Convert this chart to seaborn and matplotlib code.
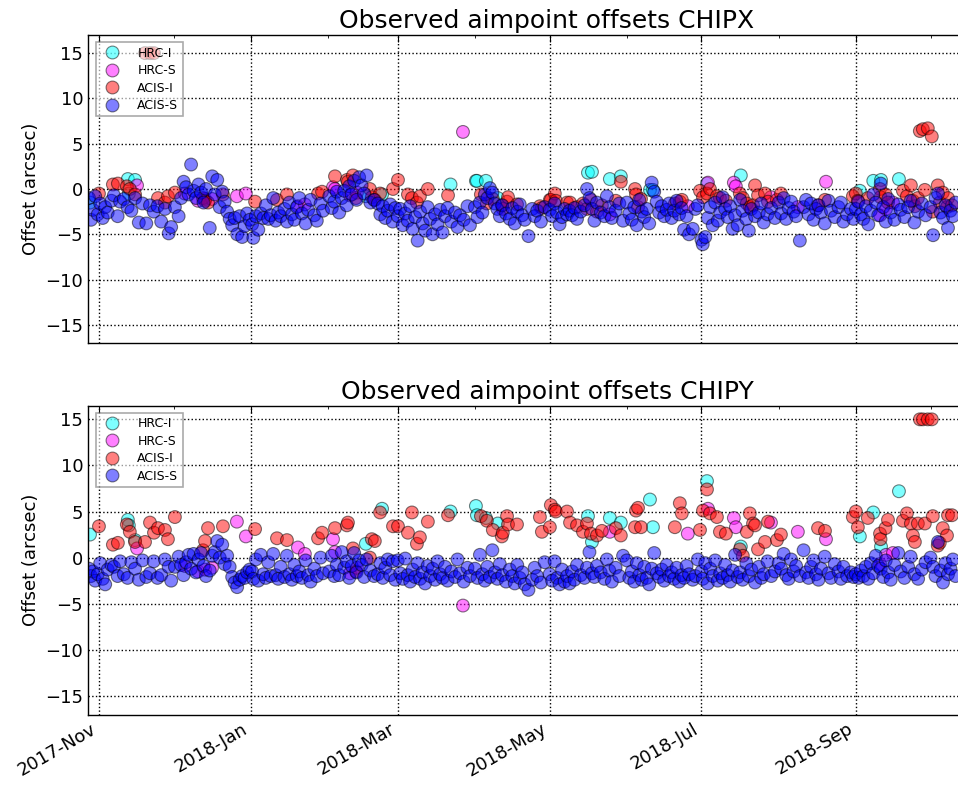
import numpy as np
import pandas as pd
import matplotlib
matplotlib.use("Agg")
import matplotlib.pyplot as plt
import matplotlib.dates as mdates
import seaborn as sns

# ---------------- data (days since 2017-11-01, offsets in arcsec) ----------------
acis_s_day = [
    -4.0, -3.2, -2.5, -1.5, -0.5, 0.5, 1.5, 2.5, 3.5, 5.0, 6.0, 7.5, 8.5, 10.0, 11.5, 13.0, 14.5, 16.0, 17.5, 19.0, 20.5, 22.0, 23.5, 25.0, 26.5, 28.0, 29.0,
    30.5, 32.0, 33.0, 34.0, 35.0, 36.0, 37.0, 38.0, 39.0, 40.0, 41.0, 42.0, 43.0, 44.5, 45.5, 46.5, 47.5, 48.5, 49.5, 50.5, 51.5, 52.5, 53.5, 54.5, 55.5, 56.5, 57.5, 58.5, 59.5, 60.5,
    61.5, 62.0, 63.0, 64.0, 65.0, 66.0, 67.0, 68.0, 69.0, 70.0, 71.0, 72.0, 73.0, 74.5, 75.5, 76.5, 77.5, 78.5, 79.5, 80.5, 81.5, 83.0, 84.0, 85.0, 86.5, 87.5, 89.0, 90.0,
    92.5, 93.5, 94.5, 95.5, 96.5, 97.5, 98.5, 99.5, 100.5, 101.5, 102.5, 103.5, 104.5, 105.5, 106.5, 107.5, 109.0, 110.5, 112.0, 113.0, 114.0, 115.0, 116.0, 117.0, 118.0, 119.0,
    120, 121, 122, 123, 124, 125, 126, 127, 128, 129, 130, 131, 132, 133, 134, 135, 136, 137, 138, 139, 140, 141.5, 143, 144, 145, 146.5, 148, 149,
    151, 152, 153, 154, 155, 156, 157, 158, 159, 160, 161, 162, 163.5, 165, 166, 167, 168, 169, 170, 171, 172.5, 174, 175, 176, 177.5, 179,
    181, 182, 183, 184, 185, 186, 187, 188, 189, 190, 191, 192, 193.5, 195, 196, 197, 198, 199, 200, 201.5, 203, 204, 205, 206, 207.5, 209, 210.5,
    212, 213, 214, 215, 216, 217, 218, 219, 220, 221, 222, 223, 224, 225, 226, 227, 228, 229, 230, 231, 232, 233, 234, 235, 236, 237, 238.5, 239.5, 240.5,
    242, 242.5, 243.5, 244.5, 245.5, 246.5, 247.5, 248.5, 249.5, 250.5, 251.5, 252.5, 253.5, 254.5, 255.5, 256.5, 257.5, 258.5, 260, 261, 262, 263.5, 265, 266, 267, 268.5, 270, 271.5,
    273, 274, 275, 276, 277, 278, 279, 280, 281.5, 283, 284, 285, 286, 287, 288, 289, 290, 291.5, 293, 294, 295.5, 297, 298, 299, 300.5, 302, 303,
    304, 305, 306, 307, 308, 309, 310, 311, 312, 313, 314, 315, 316, 317, 318, 319.5, 321, 322, 323.5, 325, 326, 327.5, 329, 330.5, 332,
    334, 335, 336, 337, 338, 339, 340, 341, 342, 343, 344,
]
acis_s_chipx = [
    -1.0, -3.4, -2.3, -0.8, -2.8, -1.6, -3.2, -2.0, -2.6, -1.3, -0.7, -3.0, -1.4, -1.1, -2.0, -2.4, -1.0, -3.7, -1.6, -3.8, -1.8, -2.5, -1.9, -3.6, -2.2, -4.9, -4.2,
    -2.0, -3.0, -1.0, 0.8, 0.2, -0.6, 2.7, -0.2, -1.0, 0.5, -0.4, -1.5, 0.0, -4.3, 1.4, -0.6, 1.0, -2.0, -0.3, -1.4, -2.5, -3.3, -4.0, -3.2, -5.0, -3.0, -5.3, -4.1, -2.7, -3.4,
    -3.9, -5.4, -3.0, -4.5, -2.7, -3.2, -1.8, -3.3, -2.9, -1.0, -3.5, -2.6, -3.0, -2.2, -3.6, -1.5, -2.8, -3.4, -2.0, -1.0, -2.7, -3.8, -2.3, -1.2, -2.9, -3.5, -1.6, -2.4,
    -0.8, -2.1, -1.4, -0.3, -2.6, -1.0, -0.2, -1.8, 0.3, -0.6, 0.9, -1.2, 1.3, 0.4, -0.5, 1.5, -1.5, -1.2, -1.6, -2.8, -1.9, -3.2, -2.4, -1.7, -3.6, -2.1,
    -3.0, -2.2, -4.0, -2.7, -3.5, -1.9, -4.4, -3.1, -5.7, -2.5, -3.8, -4.6, -2.0, -3.3, -5.0, -2.8, -3.9, -2.3, -4.8, -3.0, -2.1, -3.6, -2.6, -4.2, -2.9, -3.4, -1.9, -4.0,
    -2.0, -3.1, -1.5, -2.6, -0.6, -1.0, 0.1, -0.4, -1.6, -2.2, -3.0, -1.8, -2.7, -3.3, -2.1, -3.8, -2.5, -1.7, -2.9, -3.4, -5.2, -2.2, -3.0, -2.4, -3.6, -2.0,
    -2.3, -3.0, -1.6, -2.6, -3.9, -3.1, -2.2, -2.8, -2.4, -2.9, -2.1, -3.3, -2.5, -1.8, 0.0, -1.0, -2.2, -3.5, -1.5, -2.6, -3.0, -0.8, -2.0, -3.2, -2.4, -1.6, -3.5,
    -1.5, -2.7, -3.4, -2.0, -4.0, -1.2, -2.5, -3.1, -2.2, -3.8, 0.7, -0.3, -1.4, -2.6, -1.9, -3.0, -2.3, -1.6, -3.2, -2.4, -1.3, -2.8, -2.1, -4.5, -3.0, -5.0, -4.4, -2.2, -1.8,
    -5.6, -6.1, -5.3, -3.2, -2.0, -4.0, -1.5, -3.5, -2.6, -0.9, -2.2, -3.1, -1.9, -4.4, -2.9, -4.0, -1.2, -2.4, -3.3, -4.6, -2.2, -3.0, -2.6, -1.6, -3.7, -2.8, -2.1, -3.2,
    -1.5, -2.7, -1.0, -3.3, -2.1, -1.4, -2.5, -3.0, -5.7, -2.0, -1.2, -2.8, -1.6, -3.4, -2.2, -1.8, -2.6, -3.8, -1.3, -2.4, -3.1, -2.0, -1.5, -3.6, -2.8, -2.2, -3.3,
    -2.2, -1.4, -2.8, -3.3, -1.9, -3.9, -2.4, -0.6, -1.5, -2.9, 0.6, -2.0, -3.6, -1.1, -2.6, -3.4, -1.7, -2.3, -3.1, -2.0, -1.3, -3.7, -2.5, -1.6, -2.9,
    -2.0, -5.1, -1.0, -0.5, -2.6, -3.2, -1.8, -4.3, -2.4, -3.0, -1.5,
]
acis_s_chipy = [
    -1.2, -2.0, -1.5, -2.5, -1.8, -0.6, -2.3, -2.9, -1.3, -0.8, -1.0, -2.0, -0.4, -1.8, -2.2, -0.5, -1.2, -2.4, -0.3, -2.1, -1.7, -0.4, -2.2, -1.9, -0.2, -1.0, -2.5,
    -1.0, 0.1, -0.8, -1.9, -0.5, 0.3, -1.2, 0.4, -1.6, -0.2, 0.5, -0.9, -2.0, -1.4, 0.2, 0.6, 1.8, 0.0, 1.4, -0.7, 0.2, -1.0, -2.1, -2.7, -3.2, -2.4, -2.0, -2.2, -1.6, -1.3,
    -1.5, -2.3, -0.2, -2.5, 0.3, -1.8, -2.2, -0.5, -2.0, 0.4, -1.9, -2.3, -1.0, -2.1, 0.2, -1.8, -2.4, -0.8, -2.0, -1.5, -2.2, -0.3, -1.9, -2.6, -1.2, -2.0, 0.0, -1.7,
    -1.5, 0.2, -2.0, -0.8, -1.9, 0.6, -1.1, -0.4, -2.2, -0.9, 0.5, -1.6, -0.3, -0.8, -2.1, -0.2, -1.4, -2.0, -1.8, -0.6, -2.2, -1.1, -0.2, -1.9, -0.4, -2.4,
    -0.3, -1.7, -2.3, -0.1, -1.9, -2.6, -1.3, -2.1, -0.6, -2.3, -1.6, -2.8, -0.9, -2.0, -1.2, -2.4, -0.4, -1.8, -2.2, -1.0, -2.5, -1.5, -2.1, -0.2, -1.7, -2.6, -1.1, -2.0,
    -1.2, -2.2, 0.3, -1.8, -2.5, -1.0, -2.1, 0.8, -1.6, -2.3, -0.7, -1.9, -2.6, -1.3, -2.0, -2.8, -0.8, -2.2, -1.6, -2.9, -3.5, -2.4, -1.1, -2.0, -2.7, -0.5,
    -1.8, -2.5, -0.4, -2.2, -2.9, -1.3, -2.6, -2.0, -2.8, -1.5, -2.4, -0.8, -1.9, -2.2, -1.1, 0.6, -1.7, -2.1, -0.9, -1.6, -2.3, -0.2, -1.4, -2.6, -1.1, -2.0, 0.2,
    -0.3, -2.2, -1.5, -2.6, -0.6, -1.9, -2.4, -1.0, -2.2, -2.9, -1.2, 0.5, -1.7, -2.1, -1.3, -2.5, -0.8, -2.0, -1.6, -2.3, -1.1, -2.6, -1.9, -2.2, -0.9, -1.8, -2.4, -2.0, -0.2,
    -1.5, -2.3, -0.6, -2.8, -1.2, -2.0, -0.3, -2.5, -1.7, -2.2, -0.8, -1.9, -2.6, -1.4, 0.3, -2.1, -1.6, -2.4, -0.6, -2.0, -1.3, -2.7, -1.0, -2.2, -1.8, -0.4, -2.0, -1.5,
    -0.6, -1.2, 0.4, -1.9, -2.3, -0.2, -1.5, -0.9, -2.0, 0.8, -1.6, -2.2, -1.0, -0.3, -1.8, -2.4, -1.2, 0.1, -1.7, -2.2, -0.7, -1.5, -2.3, -1.0, -2.0, -1.6, -2.1,
    -1.8, -2.2, -1.4, -2.0, -1.0, -2.3, -0.6, -1.7, 0.2, -0.9, -1.2, -2.1, -0.3, -1.6, -2.4, -0.8, 0.5, -1.5, -2.2, -1.0, 0.1, -1.8, -2.3, -1.3, -0.5,
    0.0, -1.0, -2.0, 1.7, -1.4, -2.7, -0.6, -1.8, -1.2, -0.2, -2.0,
]

acis_i_day = [
    0.0, 5.6, 7.6, 11.2, 12.4, 14.5, 18.5, 20.5, 22.1, 23.7, 26.5, 27.7, 30.5, 41.8, 42.6, 43.8, 49.8, 62.7, 71.5, 75.5,
    88.0, 89.6, 94.8, 99.6, 100.0, 102.0, 103.2, 108.8, 109.6, 110.8, 112.9, 118.1, 120.1, 124.1, 125.7, 127.7, 128.9, 132.1, 140.2, 153.4,
    155.8, 158.2, 161.8, 162.2, 163.9, 164.3, 167.9, 177.1, 177.9, 181.1, 181.5, 183.1, 183.5, 188.0, 189.2, 192.0, 194.4, 196.0, 197.6, 200.0,
    202.0, 207.6, 209.6, 215.3, 215.7, 216.5, 217.7, 231.3, 233.3, 234.1, 241.4, 242.6, 244.2, 245.4, 248.2, 249.4, 251.8, 257.4, 258.6, 260.2,
    261.4, 262.7, 263.5, 264.7, 267.5, 268.7, 272.3, 273.9, 288.8, 291.6, 302.8, 304.0, 304.8, 308.8, 313.7, 313.9, 315.9, 316.9, 322.9, 324.5,
    326.1, 326.9, 327.7, 328.9, 329.7, 330.9, 332.9, 334.5, 331.7, 334.9, 336.9, 337.7, 338.9, 340.6, 341.0, 342.6,
]
acis_i_chipx = [
    -0.5, 0.5, 0.6, 0.3, 0.0, -0.6, 15.0, 15.0, 15.0, -1.0, -1.5, -0.8, -0.4, -1.0, -1.3, -1.5, -0.6, -1.4, -1.2, -0.6,
    -0.5, -0.3, 1.4, 1.0, 0.8, 1.5, -1.0, 0.0, -0.9, -1.2, -0.5, 0.0, 1.0, -0.6, -1.0, -1.5, -0.8, 0.0, -0.7, -0.6,
    -1.6, -1.1, -1.8, -2.2, -1.4, -0.9, -1.7, -1.9, -2.1, -1.2, -1.2, -0.5, -1.3, -1.5, -1.5, -2.0, -1.6, -2.2, -1.2, -2.5,
    -1.8, -1.3, 0.8, 0.0, -0.6, -2.0, -1.1, -1.6, -1.4, -1.2, -0.2, -0.9, -0.5, 0.0, -0.8, -1.0, -1.3, -0.5, -1.0, -1.6,
    -2.0, -1.8, 0.4, -0.7, -0.5, -1.4, -1.2, -0.5, -1.8, -1.2, -0.8, -0.5, -1.3, -1.0, 0.0, -0.9, -0.6, -1.5, -0.2, -0.8,
    0.4, -1.3, -1.9, -1.0, 6.4, 6.6, 6.7, 5.8, -0.1, -2.5, 0.4, -1.5, -0.4, -2.0, -1.0, -1.8,
]
acis_i_chipy = [
    3.4, 1.4, 1.6, 3.6, 2.8, 1.7, 1.7, 3.8, 2.7, 3.2, 3.0, 2.0, 4.4, 0.8, 1.8, 3.2, 3.4, 3.1, 2.1, 1.9,
    2.1, 2.7, 3.2, 3.5, 3.8, 1.0, -1.5, 0.0, 2.0, 1.8, 4.9, 3.4, 3.4, 2.7, 4.9, 1.5, 2.2, 3.9, 4.6, 4.5,
    4.0, 3.0, 2.3, 2.7, 4.5, 3.6, 3.6, 4.4, 2.8, 3.3, 5.7, 5.2, 5.0, 5.0, 3.8, 3.5, 2.8, 3.7, 2.6, 2.4,
    2.9, 3.2, 2.4, 3.3, 5.1, 5.4, 3.3, 3.3, 5.9, 4.8, 3.0, 5.1, 7.4, 4.8, 4.4, 2.8, 2.6, 0.9, 0.2, 2.8,
    4.8, 3.7, 3.5, 0.9, 1.7, 3.9, 1.9, 2.5, 3.2, 2.9, 4.4, 5.0, 3.3, 4.3, 2.6, 2.0, 3.2, 4.1, 4.0, 4.8,
    3.7, 2.4, 1.7, 3.7, 15.0, 15.0, 15.0, 15.0, 3.7, 4.5, 1.3, 1.6, 3.2, 2.4, 4.6, 4.6,
]

hrc_i_day = [-3.6, 11.6, 12.0, 14.5, 107.2, 113.7, 141.2, 151.4, 151.8, 155.4, 160.2, 196.4,
             198.0, 205.2, 209.6, 221.3, 222.5, 244.2, 257.8, 305.6, 311.0, 314.1, 321.3]
hrc_i_chipx = [-1.5, 1.1, -0.5, 1.0, -0.8, -0.6, 0.5, 0.9, 0.9, 0.9, -1.0, 1.8,
               1.9, 1.1, 1.4, -0.1, -0.1, 0.6, 1.5, -0.2, 0.9, 1.0, 1.1]
hrc_i_chipy = [2.5, 4.1, 3.5, 1.9, 1.5, 5.3, 5.0, 5.6, 4.6, 4.3, 3.7, 4.5,
               1.7, 4.3, 3.8, 6.3, 3.3, 8.3, 1.2, 2.3, 4.9, 1.2, 7.2]

hrc_s_day = [15.3, 34.5, 39.8, 42.6, 45.4, 55.4, 59.0, 79.9, 82.7, 94.0, 94.8, 100.8, 103.6,
             146.2, 205.2, 236.5, 244.6, 255.0, 255.8, 269.9, 280.7, 292.0, 313.7, 316.1, 318.9]
hrc_s_chipx = [0.4, -0.5, -1.3, -1.1, -1.1, -0.8, -0.5, -1.9, -1.7, 0.2, 0.0, -0.7, -0.4,
               6.3, -2.8, -1.9, 0.7, 0.7, 0.3, -0.9, -2.0, 0.8, -2.9, -2.2, -1.5]
hrc_s_chipy = [1.0, -0.9, -1.5, -1.3, -1.1, 3.9, 2.3, 1.1, 0.4, 2.0, 0.6, -1.7, -1.1,
               -5.2, 2.8, 2.6, 5.3, 4.3, 3.3, 3.8, 2.8, 2.0, -0.7, 0.3, 0.5]

detectors = ["HRC-I", "HRC-S", "ACIS-I", "ACIS-S"]
palette = {"HRC-I": "#00FFFF", "HRC-S": "#FF00FF", "ACIS-I": "#FF0000", "ACIS-S": "#0000FF"}
titles = ["Observed aimpoint offsets CHIPX", "Observed aimpoint offsets CHIPY"]

# ---------------- build table ----------------
BASE = pd.Timestamp("2017-11-01")
frames = []
for name, d, cx, cy in [("HRC-I", hrc_i_day, hrc_i_chipx, hrc_i_chipy),
                        ("HRC-S", hrc_s_day, hrc_s_chipx, hrc_s_chipy),
                        ("ACIS-I", acis_i_day, acis_i_chipx, acis_i_chipy),
                        ("ACIS-S", acis_s_day, acis_s_chipx, acis_s_chipy)]:
    assert len(d) == len(cx) == len(cy), (name, len(d), len(cx), len(cy))
    frames.append(pd.DataFrame({
        "date": BASE + pd.to_timedelta(np.asarray(d, dtype=float), unit="D"),
        "CHIPX": cx, "CHIPY": cy, "detector": name}))
df = pd.concat(frames, ignore_index=True)

# ---------------- style ----------------
sns.set_style("white")
plt.rcParams.update({
    "font.family": ["DejaVu Sans"],
    "text.color": "black",
    "axes.labelcolor": "black",
    "axes.edgecolor": "black",
    "axes.linewidth": 1.0,
    "xtick.direction": "in", "ytick.direction": "in",
    "xtick.top": True, "ytick.right": True,
    "xtick.major.size": 5, "ytick.major.size": 5,
    "xtick.minor.size": 2.5, "ytick.minor.size": 2.5,
    "xtick.color": "black", "ytick.color": "black",
    "xtick.labelsize": 13, "ytick.labelsize": 13,
})

fig = plt.figure(figsize=(9.58, 7.86), dpi=100)
W, H = 958.0, 786.0
ax1 = fig.add_axes([88 / W, 1 - 343 / H, 918 / W, 308 / H])
ax2 = fig.add_axes([88 / W, 1 - 715 / H, 918 / W, 309.5 / H], sharex=ax1)

xlim = (BASE + pd.Timedelta(days=-4.4), BASE + pd.Timedelta(days=364.3))
ylims = [(-17, 17), (-17.07, 16.5)]

for ax, col, title, ylim in zip([ax1, ax2], ["CHIPX", "CHIPY"], titles, ylims):
    sns.scatterplot(data=df, x="date", y=col, hue="detector", hue_order=detectors,
                    palette=palette, s=85, alpha=0.5, edgecolor="k", linewidth=0.8,
                    ax=ax)
    handles, labels = ax.get_legend_handles_labels()
    leg = ax.legend(handles, labels, loc="upper left", fontsize=9, frameon=True,
                    fancybox=False, framealpha=0.6, edgecolor="0.45",
                    borderaxespad=0.6, handletextpad=1.0, labelspacing=0.35,
                    borderpad=0.35)
    leg.get_frame().set_linewidth(1.2)
    ax.set_ylim(*ylim)
    ax.set_yticks([-15, -10, -5, 0, 5, 10, 15])
    ax.set_xlim(*xlim)
    ax.set_xlabel("")
    ax.set_ylabel("Offset (arcsec)", fontsize=13, labelpad=4)
    ax.set_title(title, fontsize=18, pad=5, color="black")
    ax.grid(True, which="major", color="black", linestyle=":", linewidth=1.0)
    ax.tick_params(which="both", direction="in", top=True, right=True)

ax1.xaxis.set_major_locator(mdates.MonthLocator(bymonth=[1, 3, 5, 7, 9, 11]))
ax1.xaxis.set_minor_locator(mdates.MonthLocator(bymonth=[2, 4, 6, 8, 10, 12]))
ax1.xaxis.set_major_formatter(mdates.DateFormatter("%Y-%b"))
ax1.tick_params(labelbottom=False)
plt.setp(ax2.get_xticklabels(), rotation=30, ha="right")

fig.savefig("out.png", dpi=100)
